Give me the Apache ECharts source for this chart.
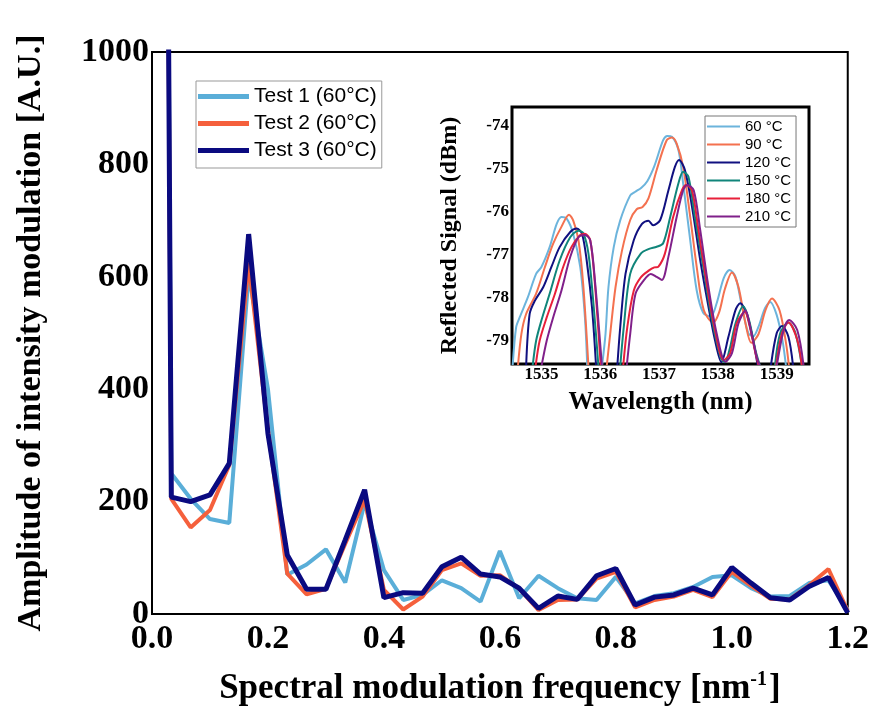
<!DOCTYPE html>
<html>
<head>
<meta charset="utf-8">
<script src="https://cdn.jsdelivr.net/npm/echarts@6/dist/echarts.min.js"></script>
<style>html,body{margin:0;padding:0;background:#fff;}#c{width:872px;height:713px;}</style>
</head>
<body>
<div id="c"></div>
<script>
// ---- main chart data ----
const freq = [0, 0.0333, 0.0667, 0.1, 0.1333, 0.1667, 0.2, 0.2333, 0.2667, 0.3, 0.3333, 0.3667, 0.4, 0.4333, 0.4667, 0.5, 0.5333, 0.5667, 0.6, 0.6333, 0.6667, 0.7, 0.7333, 0.7667, 0.8, 0.8333, 0.8667, 0.9, 0.9333, 0.9667, 1.0, 1.0333, 1.0667, 1.1, 1.1333, 1.1667, 1.2];
const test1 = [6000, 250, 205, 169, 162, 605, 400, 70, 88, 115, 56, 198, 78, 25, 34, 60, 46, 22, 112, 28, 68, 46, 28, 25, 66, 19, 32, 37, 48, 66, 69, 46, 31, 32, 55, 60, 8];
const test2 = [6000, 205, 154, 185, 265, 625, 327, 72, 35, 45, 125, 203, 43, 8, 31, 78, 90, 68, 69, 45, 7, 25, 26, 63, 75, 12, 25, 31, 43, 30, 75, 50, 27, 26, 51, 80, 5];
const test3 = [6000, 208, 200, 212, 268, 676, 321, 105, 44, 44, 132, 221, 29, 38, 37, 84, 101, 71, 66, 46, 10, 32, 26, 68, 81, 16, 30, 34, 46, 34, 83, 55, 29, 25, 49, 65, 2];
const mainNames = ['Test 1 (60°C)', 'Test 2 (60°C)', 'Test 3 (60°C)'];
const mainTicksX = [0, 0.2, 0.4, 0.6, 0.8, 1.0, 1.2];
const mainTicksY = [0, 200, 400, 600, 800, 1000];

// ---- inset data: [wavelength nm, reflected dBm] ----
const c60 = [[1534.51,-79.6],[1534.57,-78.69],[1534.63,-78.46],[1534.77,-77.99],[1534.91,-77.45],[1535.0,-77.29],[1535.14,-76.83],[1535.26,-76.29],[1535.34,-76.13],[1535.43,-76.17],[1535.54,-76.52],[1535.66,-77.29],[1535.74,-78.46],[1535.78,-79.6],null,
 [1536.03,-79.6],[1536.09,-78.84],[1536.14,-77.76],[1536.23,-76.83],[1536.34,-76.21],[1536.51,-75.63],[1536.59,-75.55],[1536.7,-75.45],[1536.8,-75.3],[1536.92,-74.95],[1537.07,-74.35],[1537.14,-74.25],[1537.22,-74.27],[1537.33,-74.58],[1537.41,-75.35],[1537.53,-76.67],[1537.64,-77.83],[1537.75,-78.35],[1537.88,-78.44],[1537.98,-78.13],[1538.1,-77.55],[1538.2,-77.36],[1538.3,-77.52],[1538.41,-78.21],[1538.52,-78.83],[1538.6,-78.9],[1538.69,-78.68],[1538.8,-78.25],[1538.89,-78.1],[1539.0,-78.4],[1539.1,-79.0],[1539.16,-79.6]];
const c90 = [[1534.60,-79.6],[1534.66,-78.84],[1534.74,-78.38],[1534.91,-77.91],[1535.06,-77.29],[1535.2,-76.75],[1535.34,-76.36],[1535.47,-76.08],[1535.54,-76.21],[1535.63,-76.67],[1535.71,-77.68],[1535.80,-79.6],null,
 [1536.11,-79.6],[1536.17,-78.84],[1536.26,-77.76],[1536.37,-76.91],[1536.51,-76.2],[1536.62,-75.95],[1536.72,-75.9],[1536.82,-75.7],[1536.96,-75.04],[1537.13,-74.35],[1537.22,-74.29],[1537.30,-74.43],[1537.41,-74.97],[1537.53,-76.13],[1537.64,-77.28],[1537.76,-78.29],[1537.92,-78.58],[1538.02,-78.35],[1538.12,-77.8],[1538.24,-77.42],[1538.35,-77.75],[1538.47,-78.6],[1538.57,-79.05],[1538.69,-78.85],[1538.81,-78.29],[1538.92,-78.02],[1539.05,-78.3],[1539.16,-79.06],[1539.21,-79.6]];
const c120 = [[1534.74,-79.6],[1534.80,-78.38],[1534.89,-78.07],[1535.03,-77.76],[1535.17,-77.29],[1535.31,-76.83],[1535.49,-76.48],[1535.6,-76.40],[1535.69,-76.52],[1535.77,-77.14],[1535.86,-78.22],[1535.93,-79.6],null,
 [1536.29,-79.6],[1536.34,-78.69],[1536.43,-77.45],[1536.57,-76.67],[1536.71,-76.29],[1536.82,-76.22],[1536.90,-76.32],[1537.02,-76.20],[1537.16,-75.51],[1537.27,-74.97],[1537.34,-74.81],[1537.44,-75.04],[1537.56,-75.89],[1537.70,-77.13],[1537.84,-78.21],[1537.95,-78.98],[1538.06,-79.5],[1538.18,-78.91],[1538.30,-78.29],[1538.38,-78.13],[1538.49,-78.37],[1538.61,-79.06],[1538.68,-79.6],null,
 [1538.90,-79.6],[1539.0,-78.83],[1539.09,-78.66],[1539.2,-78.91],[1539.28,-79.6]];
const c150 = [[1534.85,-79.6],[1534.91,-79.0],[1535.0,-78.53],[1535.14,-77.91],[1535.31,-77.14],[1535.49,-76.60],[1535.63,-76.45],[1535.71,-76.50],[1535.80,-76.98],[1535.89,-78.22],[1535.97,-79.6],null,
 [1536.34,-79.6],[1536.40,-78.69],[1536.51,-77.45],[1536.69,-76.98],[1536.83,-76.87],[1536.96,-76.82],[1537.07,-76.74],[1537.19,-76.13],[1537.33,-75.35],[1537.41,-75.08],[1537.50,-75.20],[1537.61,-76.13],[1537.76,-77.36],[1537.90,-78.52],[1538.05,-79.4],[1538.12,-79.5],[1538.20,-79.2],[1538.30,-78.6],[1538.43,-78.2],[1538.53,-78.52],[1538.64,-79.22],[1538.72,-79.6],null,
 [1538.97,-79.6],[1539.06,-78.83],[1539.20,-78.58],[1539.32,-78.83],[1539.43,-79.6]];
const c180 = [[1534.90,-79.6],[1534.97,-79.0],[1535.09,-78.46],[1535.23,-77.91],[1535.37,-77.29],[1535.51,-76.83],[1535.66,-76.55],[1535.74,-76.52],[1535.83,-76.67],[1535.91,-77.68],[1536.01,-79.6],null,
 [1536.39,-79.6],[1536.46,-78.69],[1536.57,-77.84],[1536.69,-77.53],[1536.83,-77.37],[1536.92,-77.30],[1536.99,-77.28],[1537.10,-76.98],[1537.24,-76.13],[1537.39,-75.51],[1537.46,-75.39],[1537.56,-75.51],[1537.67,-76.43],[1537.81,-77.67],[1537.95,-78.75],[1538.10,-79.45],[1538.21,-79.29],[1538.32,-78.60],[1538.46,-78.33],[1538.53,-78.60],[1538.64,-79.29],[1538.70,-79.6],null,
 [1538.99,-79.6],[1539.09,-78.83],[1539.2,-78.58],[1539.35,-78.98],[1539.43,-79.6]];
const c210 = [[1535.0,-79.6],[1535.09,-79.0],[1535.2,-78.46],[1535.34,-77.84],[1535.49,-77.06],[1535.63,-76.60],[1535.74,-76.55],[1535.83,-76.67],[1535.91,-77.6],[1536.03,-79.6],null,
 [1536.45,-79.6],[1536.51,-78.84],[1536.6,-77.91],[1536.74,-77.60],[1536.86,-77.45],[1536.96,-77.52],[1537.05,-77.59],[1537.16,-77.05],[1537.30,-76.13],[1537.41,-75.51],[1537.48,-75.39],[1537.59,-75.51],[1537.70,-76.43],[1537.84,-77.75],[1537.98,-78.83],[1538.13,-79.49],[1538.24,-79.29],[1538.35,-78.60],[1538.47,-78.30],[1538.55,-78.68],[1538.66,-79.37],[1538.72,-79.6],null,
 [1539.0,-79.6],[1539.12,-78.75],[1539.21,-78.52],[1539.35,-78.75],[1539.46,-79.6]];
const insetNames = ['60 °C', '90 °C', '120 °C', '150 °C', '180 °C', '210 °C'];
const insetTicksX = [1535, 1536, 1537, 1538, 1539];
const insetTicksY = [-79, -78, -77, -76, -75, -74];

const mainColors = ['#5aaed8', '#f5603c', '#0a0a80'];
const insetColors = ['#6cb4dc', '#f4714f', '#101080', '#10857a', '#e8203a', '#80208a'];
const serif = 'Liberation Serif';
const sans = 'Liberation Sans';

const mainVals = [test1, test2, test3];
const insetVals = [c60, c90, c120, c150, c180, c210];

const series = [];
mainVals.forEach((v, i) => {
  series.push({
    name: mainNames[i], type: 'line', xAxisIndex: 0, yAxisIndex: 0,
    data: freq.map((f, k) => [f, v[k]]), showSymbol: false, symbol: 'none',
    clip: true, lineStyle: { color: mainColors[i], width: i === 2 ? 5 : 4 },
    itemStyle: { color: mainColors[i] }, z: 2 + i
  });
});
insetVals.forEach((v, i) => {
  series.push({
    name: insetNames[i], type: 'line', xAxisIndex: 1, yAxisIndex: 1,
    data: v, showSymbol: false, symbol: 'none', smooth: 0.3, connectNulls: false,
    clip: true, lineStyle: { color: insetColors[i], width: 2 },
    itemStyle: { color: insetColors[i] }, z: 10
  });
});

const chart = echarts.init(document.getElementById('c'), null, { renderer: 'canvas' });
chart.setOption({
  animation: false,
  backgroundColor: '#fff',
  grid: [
    { left: 152, right: 23, top: 52, bottom: 99, show: true, borderColor: '#000', borderWidth: 2, backgroundColor: 'transparent' },
    { left: 512, right: 63, top: 107, bottom: 349, show: true, borderColor: '#000', borderWidth: 3, backgroundColor: '#fff', z: 5 }
  ],
  xAxis: [
    { type: 'value', gridIndex: 0, min: 0, max: 1.2, interval: 0.2,
      axisLine: { show: true, lineStyle: { color: '#000', width: 2 } }, axisTick: { show: false }, splitLine: { show: false },
      axisLabel: { color: '#000', fontFamily: serif, fontWeight: 'bold', fontSize: 34, margin: 8,
        customValues: mainTicksX, formatter: v => v.toFixed(1) },
      name: 'Spectral modulation frequency [nm{sup|-1}]', nameLocation: 'middle', nameGap: 56,
      nameTextStyle: { color: '#000', fontFamily: serif, fontWeight: 'bold', fontSize: 35,
        rich: { sup: { fontFamily: serif, fontWeight: 'bold', fontSize: 20, verticalAlign: 'top', lineHeight: 38, padding: [0, 2, 0, 0] } } } },
    { type: 'value', gridIndex: 1, min: 1534.5, max: 1539.55,
      axisLine: { show: false }, axisTick: { show: false }, splitLine: { show: false },
      axisLabel: { color: '#000', fontFamily: serif, fontWeight: 'bold', fontSize: 17, margin: 2,
        customValues: insetTicksX, formatter: v => String(Math.round(v)) },
      name: 'Wavelength (nm)', nameLocation: 'middle', nameGap: 26,
      nameTextStyle: { color: '#000', fontFamily: serif, fontWeight: 'bold', fontSize: 25 } }
  ],
  yAxis: [
    { type: 'value', gridIndex: 0, min: 0, max: 1000, interval: 200,
      axisLine: { show: true, lineStyle: { color: '#000', width: 2 } }, axisTick: { show: false }, splitLine: { show: false },
      axisLabel: { color: '#000', fontFamily: serif, fontWeight: 'bold', fontSize: 34, margin: 3,
        customValues: mainTicksY, formatter: v => String(v) },
      name: 'Amplitude of intensity modulation [A.U.]', nameLocation: 'middle', nameGap: 104,
      nameTextStyle: { color: '#000', fontFamily: serif, fontWeight: 'bold', fontSize: 34 } },
    { type: 'value', gridIndex: 1, min: -79.54, max: -73.58,
      axisLine: { show: false }, axisTick: { show: false }, splitLine: { show: false },
      axisLabel: { color: '#000', fontFamily: serif, fontWeight: 'bold', fontSize: 17, margin: 3,
        customValues: insetTicksY, formatter: v => String(Math.round(v)) },
      name: 'Reflected Signal (dBm)', nameLocation: 'middle', nameGap: 50,
      nameTextStyle: { color: '#000', fontFamily: serif, fontWeight: 'bold', fontSize: 24 } }
  ],
  legend: [
    { data: mainNames, orient: 'vertical', left: 196, top: 81, icon: 'rect', itemWidth: 51, itemHeight: 5, itemGap: 6,
      padding: [5, 5, 7, 2], borderColor: '#999', borderWidth: 1, backgroundColor: '#fff',
      textStyle: { color: '#000', fontFamily: sans, fontSize: 21, lineHeight: 21 } , z: 20},
    { data: insetNames, orient: 'vertical', left: 705, top: 116, icon: 'rect', itemWidth: 33, itemHeight: 2, itemGap: 3,
      padding: [3, 5, 3, 2], borderColor: '#777', borderWidth: 1, backgroundColor: '#fff',
      textStyle: { color: '#000', fontFamily: sans, fontSize: 15, lineHeight: 15 }, z: 20 }
  ],
  series: series
});
</script>
</body>
</html>
